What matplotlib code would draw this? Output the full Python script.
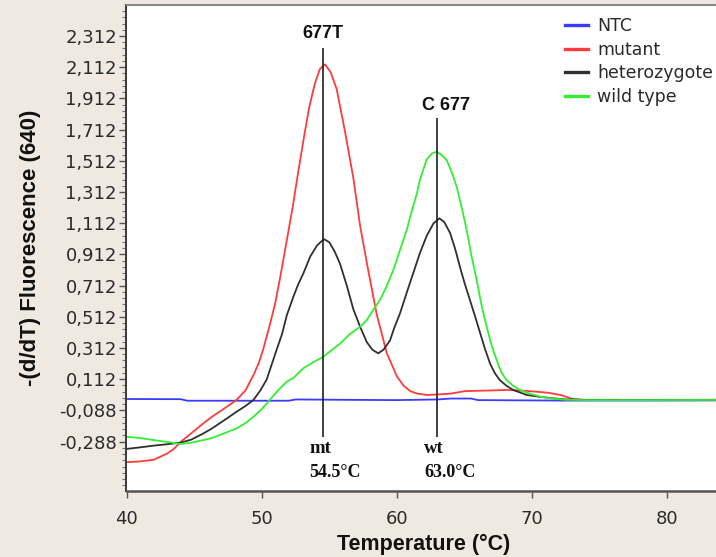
import numpy as np
import matplotlib
matplotlib.use("Agg")
import matplotlib.pyplot as plt
from matplotlib.ticker import FixedLocator, FixedFormatter
from matplotlib.lines import Line2D

# ---------------- data ----------------
series_names = ["NTC", "mutant", "heterozygote", "wild type"]
series_colors = ["#3b3bff", "#ff3b3b", "#303030", "#33ee33"]

ntc_T = [40, 44, 44.5, 52, 52.5, 56, 60, 63, 64, 65.5, 66, 72, 78, 84]
ntc_v = [-0.015, -0.016, -0.026, -0.026, -0.018, -0.02, -0.022, -0.018,
         -0.012, -0.012, -0.022, -0.025, -0.025, -0.024]

mut_T = [40, 41, 42, 43, 43.5, 44, 44.5, 45, 45.7, 46.3, 46.9, 47.5, 48.15,
         48.8, 49.4, 49.8, 50.1, 50.6, 51.0, 51.4, 51.85, 52.3, 52.7, 53.1,
         53.5, 53.94, 54.3, 54.68, 55.1, 55.55, 56.16, 56.78, 57.27, 57.77,
         58.5, 59.25, 60.0, 60.5, 61.0, 61.5, 62.2, 63.2, 64.0, 65.0, 66.0,
         67.0, 68.1, 69.0, 70.3, 71.2, 72.1, 73.0, 74.0, 76.0, 78.0, 80.0,
         82.0, 84.0]
mut_v = [-0.42, -0.415, -0.405, -0.365, -0.335, -0.29, -0.255, -0.22, -0.17,
         -0.13, -0.095, -0.06, -0.02, 0.04, 0.14, 0.22, 0.30, 0.46, 0.60,
         0.78, 1.00, 1.22, 1.44, 1.65, 1.85, 2.01, 2.10, 2.13, 2.08, 1.97,
         1.70, 1.40, 1.10, 0.86, 0.53, 0.28, 0.13, 0.07, 0.035, 0.02, 0.011,
         0.015, 0.02, 0.035, 0.038, 0.04, 0.043, 0.04, 0.032, 0.025, 0.011,
         -0.015, -0.022, -0.02, -0.022, -0.02, -0.021, -0.02]

het_T = [40, 41, 42, 43, 44, 44.8, 45.7, 46.3, 46.9, 47.5, 48.15, 48.8, 49.4,
         49.9, 50.37, 50.6, 51.1, 51.5, 51.85, 52.34, 52.7, 53.08, 53.6, 54.1,
         54.6, 55.0, 55.4, 55.8, 56.3, 56.78, 57.27, 57.77, 58.2, 58.62, 59.0,
         59.49, 59.8, 60.23, 60.7, 61.2, 61.7, 62.2, 62.7, 63.14, 63.5, 63.93,
         64.3, 64.67, 65.0, 65.4, 65.8, 66.15, 66.5, 66.9, 67.25, 67.6, 68.1,
         68.6, 69.6, 70.5, 71.5, 72.5, 74, 78, 84]
het_v = [-0.335, -0.325, -0.314, -0.305, -0.295, -0.275, -0.235, -0.205,
         -0.17, -0.135, -0.096, -0.06, -0.02, 0.04, 0.11, 0.17, 0.30, 0.40,
         0.52, 0.64, 0.72, 0.79, 0.90, 0.97, 1.01, 0.99, 0.93, 0.85, 0.71,
         0.56, 0.45, 0.35, 0.30, 0.278, 0.30, 0.36, 0.44, 0.534, 0.66, 0.79,
         0.92, 1.03, 1.11, 1.143, 1.12, 1.05, 0.95, 0.83, 0.73, 0.62, 0.51,
         0.41, 0.31, 0.21, 0.15, 0.107, 0.07, 0.043, 0.011, 0.0, -0.01,
         -0.018, -0.02, -0.021, -0.02]

wt_T = [40, 41, 42, 43, 43.96, 44.8, 45.7, 46.3, 46.9, 47.5, 48.15, 48.8,
        49.4, 50.0, 50.6, 51.2, 51.85, 52.34, 53.08, 53.8, 54.56, 55.2, 55.8,
        56.5, 57.27, 57.77, 58.2, 58.75, 59.2, 59.73, 60.23, 60.73, 61.1,
        61.47, 61.7, 62.2, 62.6, 62.94, 63.3, 63.68, 64.05, 64.42, 64.8,
        65.16, 65.5, 65.9, 66.25, 66.64, 67.0, 67.38, 67.7, 68.1, 68.6, 69.1,
        69.8, 70.6, 71.5, 72.5, 74, 78, 84]
wt_v = [-0.257, -0.265, -0.278, -0.29, -0.303, -0.295, -0.278, -0.265, -0.246,
        -0.225, -0.203, -0.17, -0.128, -0.08, -0.021, 0.04, 0.096, 0.12,
        0.182, 0.22, 0.256, 0.30, 0.34, 0.40, 0.448, 0.49, 0.55, 0.62, 0.70,
        0.81, 0.94, 1.07, 1.19, 1.30, 1.39, 1.52, 1.56, 1.57, 1.55, 1.517,
        1.44, 1.346, 1.21, 1.068, 0.91, 0.748, 0.59, 0.448, 0.33, 0.235, 0.16,
        0.107, 0.07, 0.043, 0.02, 0.0, -0.012, -0.02, -0.022, -0.022, -0.021]

x_ticks = [40, 50, 60, 70, 80]
y_ticks = [-0.288, -0.088, 0.112, 0.312, 0.512, 0.712, 0.912, 1.112, 1.312,
           1.512, 1.712, 1.912, 2.112, 2.312]
y_tick_labels = ["-0,288", "-0,088", "0,112", "0,312", "0,512", "0,712",
                 "0,912", "1,112", "1,312", "1,512", "1,712", "1,912",
                 "2,112", "2,312"]

peak_temps = [54.5, 63.0]
peak_names = ["677T", "C 677"]
peak_tags = ["mt", "wt"]
peak_labels = ["54.5\u00b0C", "63.0\u00b0C"]
peak_line_top = [2.235, 1.786]
peak_line_bottom = -0.258
peak_name_pos = [(54.55, 2.33), (63.65, 1.865)]

# ---------------- figure ----------------
W, H = 716, 557
bg = "#efe9e1"
fig = plt.figure(figsize=(W / 100, H / 100), dpi=100, facecolor=bg)
ax_left, ax_right, ax_top, ax_bottom = 126.5, 716, 5, 491
ax = fig.add_axes([ax_left / W, 1 - ax_bottom / H,
                   (ax_right - ax_left) / W, (ax_bottom - ax_top) / H])
ax.set_facecolor("white")

ax.set_xlim(40, 40 + (ax_right - ax_left) / 13.52)
ax.set_ylim(2.312 - (ax_bottom - 36) / 156.0, 2.312 + (36 - ax_top) / 156.0)

all_T = [ntc_T, mut_T, het_T, wt_T]
all_v = [ntc_v, mut_v, het_v, wt_v]
for T, v, c in zip(all_T, all_v, series_colors):
    ax.plot(T, v, color=c, lw=1.3, solid_joinstyle="round")

# peak annotation lines
ax.vlines(peak_temps, peak_line_bottom, peak_line_top, color="#202020", lw=1.2)
for (px, py), name in zip(peak_name_pos, peak_names):
    ax.text(px, py, name, ha="center", va="center", fontsize=13,
            fontweight="bold", family="Liberation Sans", color="#111111")
for t, tag, lab in zip(peak_temps, peak_tags, peak_labels):
    ax.text(t - 1.0, -0.33, tag, ha="left", va="center", fontsize=13.5,
            fontweight="bold", family="Liberation Serif", color="#111111")
    ax.text(t - 1.0, -0.483, lab, ha="left", va="center", fontsize=13,
            fontweight="bold", family="Liberation Serif", color="#111111")

# ticks
ax.xaxis.set_major_locator(FixedLocator(x_ticks))
ax.set_xticklabels([str(t) for t in x_ticks])
ax.yaxis.set_major_locator(FixedLocator(y_ticks))
ax.yaxis.set_major_formatter(FixedFormatter(y_tick_labels))
ax.yaxis.set_minor_locator(FixedLocator(np.arange(-0.568, 2.5, 0.04)))
ax.tick_params(axis="both", which="major", direction="out", length=5,
               width=1, colors="#555555", labelcolor="#2a2a2a", labelsize=13)
ax.tick_params(axis="y", which="major", pad=2)
ax.tick_params(axis="x", which="major", pad=9)
ax.tick_params(axis="y", which="minor", direction="out", length=3, width=0.8,
               colors="#777777")
for lab in ax.get_xticklabels() + ax.get_yticklabels():
    lab.set_family("DejaVu Sans")

ax.spines["left"].set_color("#3a3a3a")
ax.spines["left"].set_linewidth(1.4)
ax.spines["bottom"].set_color("#555555")
ax.spines["bottom"].set_linewidth(1.8)
ax.spines["top"].set_color("#8a8a8a")
ax.spines["top"].set_linewidth(1.5)
ax.spines["right"].set_visible(False)

ax.set_xlabel("Temperature (\u00b0C)", fontsize=15.5, fontweight="bold",
              family="Liberation Sans", color="#111111")
ax.set_ylabel("-(d/dT) Fluorescence (640)", fontsize=16, fontweight="bold",
              family="Liberation Sans", color="#111111")
ax.xaxis.set_label_coords((424 - ax_left) / (ax_right - ax_left),
                          (ax_bottom - 544) / (ax_bottom - ax_top))
ax.xaxis.label.set_va("center")
ax.yaxis.set_label_coords((31 - ax_left) / (ax_right - ax_left), 0.5)
ax.yaxis.label.set_va("center")

handles = [Line2D([], [], color=c, lw=2.4) for c in series_colors]
leg = ax.legend(handles, series_names, loc="upper left",
                bbox_to_anchor=(565 / W, 1 - 17 / H),
                bbox_transform=fig.transFigure, frameon=False,
                prop={"family": "DejaVu Sans", "size": 12.5},
                handlelength=1.3, handletextpad=0.55, labelspacing=0.33,
                borderpad=0, borderaxespad=0)
for t in leg.get_texts():
    t.set_color("#2a2a2a")

fig.savefig("out.png", dpi=100, facecolor=bg)
